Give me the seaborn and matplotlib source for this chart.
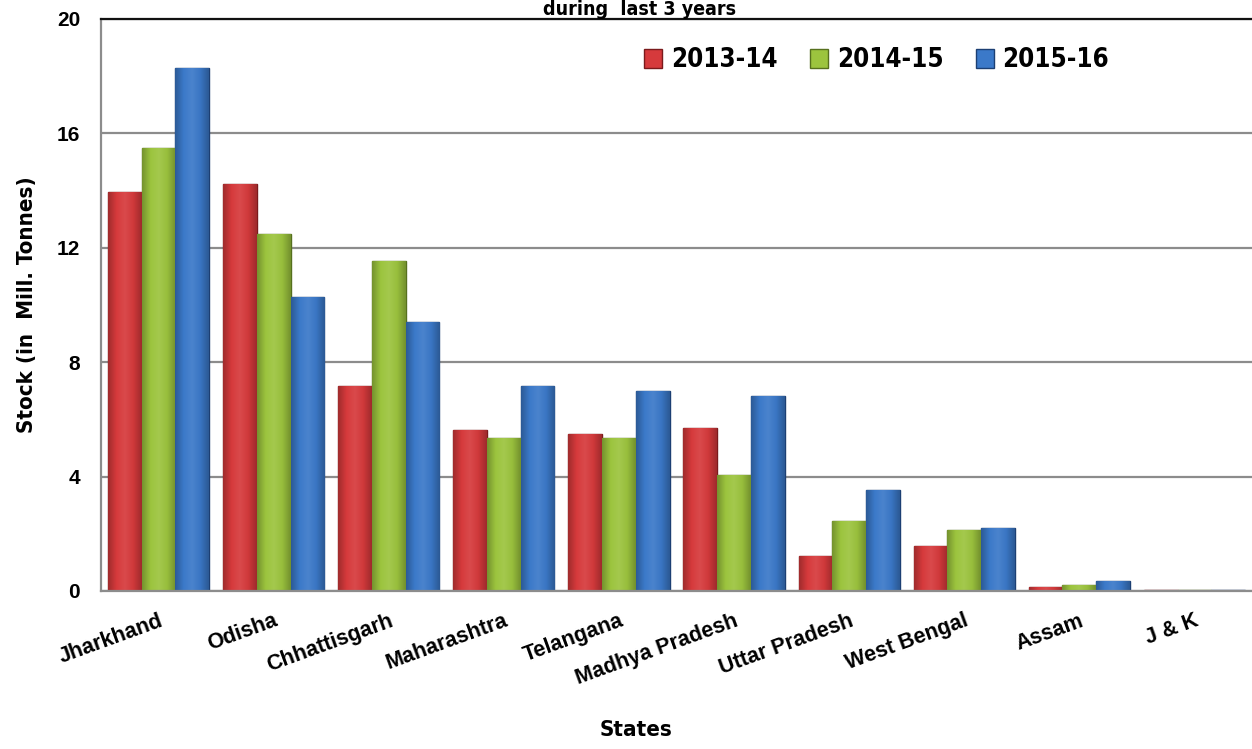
import numpy as np
import pandas as pd
import matplotlib
matplotlib.use("Agg")
import matplotlib.pyplot as plt
from matplotlib.colors import LinearSegmentedColormap, to_rgb
from matplotlib.font_manager import FontProperties
import seaborn as sns

# Data (stock in million tonnes)
states = ['Jharkhand', 'Odisha', 'Chhattisgarh', 'Maharashtra', 'Telangana',
          'Madhya Pradesh', 'Uttar Pradesh', 'West Bengal', 'Assam', 'J & K']
years = ['2013-14', '2014-15', '2015-16']
stock_2013 = [13.95, 14.23, 7.17, 5.63, 5.49, 5.70, 1.22, 1.57, 0.14, 0.02]
stock_2014 = [15.50, 12.48, 11.54, 5.35, 5.35, 4.06, 2.45, 2.13, 0.20, 0.02]
stock_2015 = [18.30, 10.28, 9.41, 7.17, 6.99, 6.82, 3.53, 2.20, 0.35, 0.03]
y_ticks = [0, 4, 8, 12, 16, 20]

colors = ['#D63A3C', '#9CC43E', '#3B79C9']
edges = ['#7A1A1C', '#56701E', '#1C3F73']

df = pd.DataFrame({
    'State': states * 3,
    'Year': [years[0]] * 10 + [years[1]] * 10 + [years[2]] * 10,
    'Stock': stock_2013 + stock_2014 + stock_2015,
})

sns.set_style('white')
plt.rcParams['font.family'] = ['Liberation Sans', 'DejaVu Sans']
plt.rcParams['text.color'] = 'black'
plt.rcParams['xtick.color'] = 'black'
plt.rcParams['ytick.color'] = 'black'
plt.rcParams['axes.labelcolor'] = 'black'


def narrow(size):
    return FontProperties(family='DejaVu Sans', weight='bold',
                          stretch='condensed', size=size)


def shade(c, f):
    r = np.array(to_rgb(c))
    if f < 1:
        return tuple(r * f)
    return tuple(r + (1 - r) * (f - 1))


fig = plt.figure(figsize=(12.52, 7.49), dpi=100)
ax = fig.add_axes([101 / 1252, 158 / 749, 1151 / 1252, 572 / 749])

sns.barplot(data=df, x='State', y='Stock', hue='Year', order=states,
            hue_order=years, palette=colors, width=0.88, saturation=1,
            ax=ax, legend=True)

# glossy horizontal shading inside each bar, darker outline per series
grad = np.linspace(0, 1, 64).reshape(1, -1)
for cont, col, ec in zip(ax.containers, colors, edges):
    cmap = LinearSegmentedColormap.from_list(
        'b', [shade(col, 0.75), shade(col, 1.0), shade(col, 1.08),
              shade(col, 0.97), shade(col, 0.74)])
    for bar in cont:
        bar.set_edgecolor(ec)
        bar.set_linewidth(1.0)
        x0, w, h = bar.get_x(), bar.get_width(), bar.get_height()
        im = ax.imshow(grad, cmap=cmap, aspect='auto',
                       extent=[x0, x0 + w, 0, h], zorder=bar.get_zorder() + 0.1,
                       interpolation='bilinear')
        im.set_clip_path(bar)

ax.set_ylim(0, 20)
ax.set_xlim(-0.5, 9.5)
ax.set_yticks(y_ticks)
ax.set_yticklabels([str(t) for t in y_ticks], fontsize=15, fontweight='bold')
ax.yaxis.grid(True, color='#8C8C8C', linewidth=1.6)
ax.set_axisbelow(True)

ax.set_xticks(range(len(states)))
ax.set_xticklabels(states, rotation=20, ha='right', rotation_mode='anchor',
                   fontsize=15.5, fontweight='bold')
ax.tick_params(axis='x', which='major', length=0, pad=14)
ax.set_xticks([i - 0.5 for i in range(len(states) + 1)], minor=True)
ax.tick_params(axis='x', which='minor', length=8, width=1.6, color='#8C8C8C',
               direction='out')
ax.tick_params(axis='y', length=7, width=1.6, color='#8C8C8C', direction='out',
               pad=8, labelcolor='black')

for side in ['left', 'bottom']:
    ax.spines[side].set_color('#8C8C8C')
    ax.spines[side].set_linewidth(1.6)
ax.spines['top'].set_color('#111111')
ax.spines['top'].set_linewidth(1.6)
ax.spines['right'].set_visible(False)

ax.set_ylabel('Stock (in  Mill. Tonnes)', fontproperties=narrow(16),
              labelpad=14)
ax.set_xlabel('States', fontproperties=narrow(16))
ax.xaxis.set_label_coords(0.465, -0.225)

leg = ax.legend(loc='center', bbox_to_anchor=(0.674, 0.928), ncol=3,
                frameon=False, handlelength=0.7, handleheight=0.75,
                handletextpad=0.35, columnspacing=1.25, prop=narrow(18.5))
for hnd, ec in zip(leg.legend_handles, edges):
    hnd.set_edgecolor(ec)

fig.text(0.511, 1 - 15 / 749, 'during  last 3 years', ha='center',
         va='baseline', fontproperties=narrow(14))

fig.savefig('out.png', dpi=100)
